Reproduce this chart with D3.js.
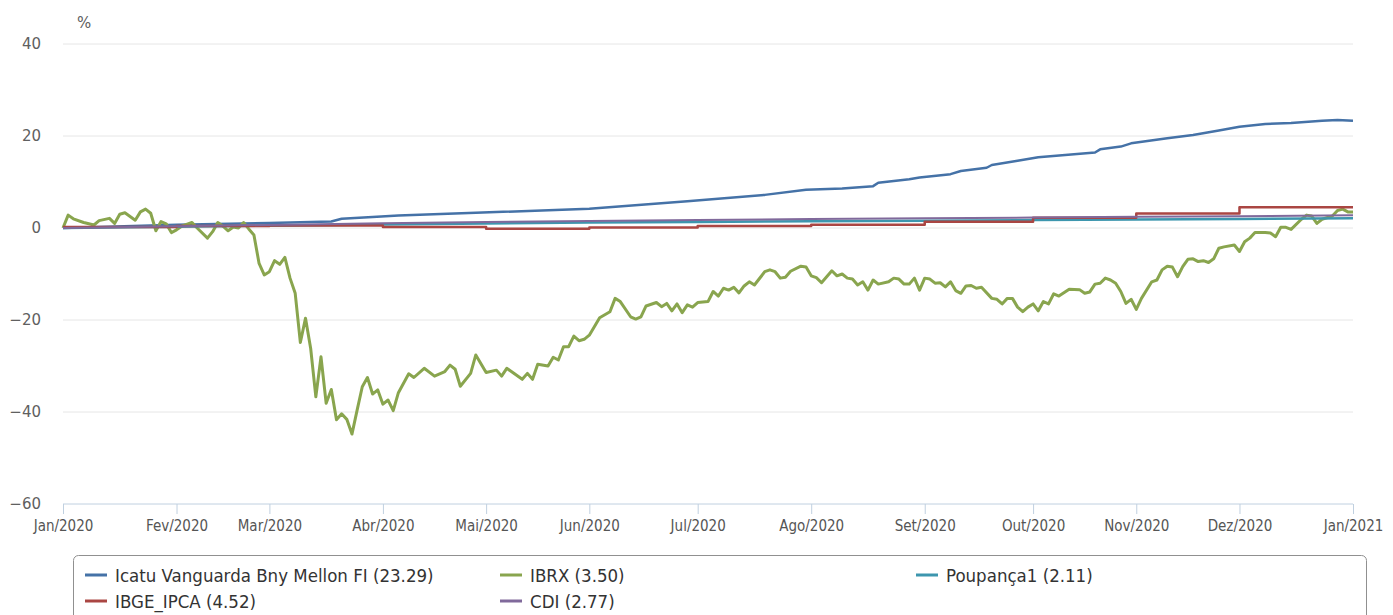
<!DOCTYPE html>
<html>
<head>
<meta charset="utf-8">
<script src="https://cdn.jsdelivr.net/npm/d3@7"></script>
<style>
  body { margin: 0; background: #fff; }
  svg { display: block; }
  .axis-lbl { font-family: "DejaVu Sans Condensed", "DejaVu Sans", sans-serif; font-stretch: condensed; }
</style>
</head>
<body>
<svg width="1393" height="615"></svg>
<script>
// trading-day index of the first session of each month (ordinal x axis)
const monthIdx = [0, 22, 40, 62, 82, 102, 123, 145, 167, 188, 208, 228, 250];
const monthLabels = ["Jan/2020", "Fev/2020", "Mar/2020", "Abr/2020", "Mai/2020", "Jun/2020",
  "Jul/2020", "Ago/2020", "Set/2020", "Out/2020", "Nov/2020", "Dez/2020", "Jan/2021"];
const yTicks = [-60, -40, -20, 0, 20, 40];

// Icatu Vanguarda Bny Mellon FI  [day, %]
const icatu = [[0, 0], [22, 0.7], [40, 1.1], [52, 1.4], [54, 2.0], [60, 2.4], [65, 2.7], [80, 3.3],
  [102, 4.2], [121, 5.8], [136, 7.2], [144, 8.3], [151, 8.6], [157, 9.1], [158, 9.85], [164, 10.6],
  [166, 11.0], [172, 11.7], [174, 12.4], [179, 13.1], [180, 13.7], [185, 14.6], [189, 15.4],
  [200, 16.4], [201, 17.1], [205, 17.7], [207, 18.4], [214, 19.5], [219, 20.2], [224, 21.2],
  [228, 22.0], [233, 22.6], [238, 22.8], [244, 23.3], [247, 23.5], [250, 23.29]];

// IBRX  [day, %]
const ibrx = [[0, 0], [1, 2.8], [2, 2.0], [4, 1.2], [6, 0.65], [7, 1.6], [9, 2.1], [10, 1.0], [11, 3.0],
  [12, 3.3], [14, 1.7], [15, 3.5], [16, 4.1], [17, 3.2], [18, -0.6], [19, 1.4], [20, 0.9], [21, -1.0],
  [22, -0.4], [23, 0.4], [25, 1.2], [26, 0], [28, -2.2], [29, -0.8], [30, 1.2], [31, 0.4], [32, -0.6],
  [33, 0.2], [34, 0], [35, 1.2], [36, -0.2], [37, -1.5], [38, -7.7], [39, -10.2], [40, -9.5], [41, -7.1],
  [42, -7.9], [43, -6.4], [44, -10.9], [45, -14.2], [46, -24.9], [47, -19.6], [48, -26.2], [49, -36.7],
  [50, -28], [51, -38.1], [52, -35.1], [53, -41.7], [54, -40.4], [55, -41.6], [56, -44.8], [57, -39.6],
  [58, -34.5], [59, -32.5], [60, -36.1], [61, -35.2], [62, -38.3], [63, -37.4], [64, -39.7], [65, -35.8],
  [67, -31.7], [68, -32.5], [70, -30.5], [72, -32.2], [74, -31.2], [75, -29.8], [76, -30.7], [77, -34.4],
  [79, -31.6], [80, -27.6], [82, -31.4], [84, -30.9], [85, -32.2], [86, -30.5], [89, -32.9], [90, -31.6],
  [91, -32.9], [92, -29.6], [94, -30.0], [95, -28.1], [96, -28.7], [97, -25.8], [98, -25.8], [99, -23.5],
  [100, -24.5], [101, -24.2], [102, -23.3], [104, -19.5], [106, -18.2], [107, -15.3], [108, -16.0],
  [110, -19.3], [111, -19.8], [112, -19.3], [113, -16.95], [115, -16.2], [116, -17.1], [117, -16.4],
  [118, -18.0], [119, -16.5], [120, -18.4], [121, -16.7], [122, -17.2], [123, -16.2], [125, -16.0],
  [126, -13.8], [127, -14.8], [128, -13.1], [129, -13.5], [130, -12.9], [131, -14.1], [132, -12.6],
  [133, -11.7], [134, -12.4], [136, -9.5], [137, -9.1], [138, -9.5], [139, -10.9], [140, -10.7],
  [141, -9.4], [143, -8.3], [144, -8.5], [145, -10.4], [146, -10.8], [147, -11.9], [149, -9.3],
  [150, -10.4], [151, -10.0], [152, -10.9], [153, -11.1], [154, -12.4], [155, -11.7], [156, -13.5],
  [157, -11.3], [158, -12.2], [160, -11.7], [161, -10.9], [162, -11.1], [163, -12.2], [164, -12.2],
  [165, -10.9], [166, -13.5], [167, -10.9], [168, -11.1], [169, -12.0], [170, -11.9], [171, -12.8],
  [172, -11.7], [173, -13.6], [174, -14.2], [175, -12.6], [176, -12.5], [177, -13.1], [178, -12.9],
  [180, -15.3], [181, -15.5], [182, -16.5], [183, -15.3], [184, -15.3], [185, -17.2], [186, -18.2],
  [187, -17.2], [188, -16.5], [189, -18.0], [190, -16.0], [191, -16.5], [192, -14.3], [193, -14.8],
  [195, -13.3], [197, -13.4], [198, -14.2], [199, -13.9], [200, -12.2], [201, -12.0], [202, -10.9],
  [203, -11.3], [204, -12.0], [205, -13.8], [206, -16.4], [207, -15.5], [208, -17.7], [209, -15.3],
  [211, -11.7], [212, -11.3], [213, -9.1], [214, -8.3], [215, -8.5], [216, -10.6], [217, -8.4],
  [218, -6.8], [219, -6.7], [220, -7.3], [221, -7.1], [222, -7.5], [223, -6.7], [224, -4.4],
  [225, -4.1], [227, -3.7], [228, -5.1], [229, -3.0], [230, -2.2], [231, -1.0], [233, -1.0],
  [234, -1.1], [235, -1.9], [236, 0.15], [237, 0.15], [238, -0.3], [240, 1.9], [241, 2.8], [242, 2.6],
  [243, 1.0], [244, 1.9], [246, 2.6], [247, 3.8], [248, 4.1], [249, 3.5], [250, 3.5]];

// monthly accumulated values at monthIdx
const poupanca = [0, 0.26, 0.51, 0.77, 1.0, 1.18, 1.32, 1.46, 1.59, 1.72, 1.85, 1.98, 2.11];
const cdi = [0, 0.38, 0.67, 1.01, 1.29, 1.53, 1.75, 1.94, 2.10, 2.26, 2.42, 2.57, 2.77];
const ipca = [0.21, 0.46, 0.53, 0.22, -0.16, 0.10, 0.46, 0.70, 1.34, 2.22, 3.13, 4.52, 4.52];

const legendNames = ["Icatu Vanguarda Bny Mellon FI (23.29)", "IBRX (3.50)", "Poupança1 (2.11)",
  "IBGE_IPCA (4.52)", "CDI (2.77)"];
const colors = ["#4572A7", "#89A54E", "#3D96AE", "#AA4643", "#80699B"];

const svg = d3.select("svg");
const x = d3.scaleLinear().domain([0, 250]).range([63, 1353]);
const y = d3.scaleLinear().domain([-60, 40]).range([504, 44]);

// grid
svg.append("g").selectAll("line")
  .data(yTicks.filter(d => d > -60))
  .enter().append("line")
  .attr("x1", 63).attr("x2", 1353)
  .attr("y1", d => y(d)).attr("y2", d => y(d))
  .attr("stroke", "#e6e6e6").attr("stroke-width", 1);

// y axis labels
const yAxis = d3.axisLeft(y).tickValues(yTicks).tickSize(0).tickPadding(22);
const gy = svg.append("g").attr("transform", "translate(63,0)").call(yAxis);
gy.select(".domain").remove();
gy.selectAll("text").attr("fill", "#606060").style("font-size", "15px")
  .style("font-family", "'DejaVu Sans', sans-serif");

svg.append("text").attr("x", 77).attr("y", 28).text("%")
  .attr("fill", "#606060").style("font-size", "15px").style("font-family", "'DejaVu Sans', sans-serif");

// x axis
const xAxis = d3.axisBottom(x).tickValues(monthIdx).tickSize(10).tickPadding(6)
  .tickFormat((d, i) => monthLabels[i]);
const gx = svg.append("g").attr("transform", "translate(0,504)").call(xAxis);
gx.select(".domain").attr("stroke", "#C0D0E0").attr("d", "M63,0H1353");
gx.selectAll(".tick line").attr("stroke", "#C0D0E0");
gx.selectAll("text").attr("fill", "#555").attr("class", "axis-lbl").style("font-size", "15px");

// series
const line = d3.line().x(d => x(d[0])).y(d => y(d[1]));
const stepLine = d3.line().x(d => x(d[0])).y(d => y(d[1])).curve(d3.curveStepAfter);
const monthly = vals => vals.map((v, i) => [monthIdx[i], v]);

const series = [
  { data: icatu, gen: line, w: 2.5 },
  { data: ibrx, gen: line, w: 3 },
  { data: monthly(poupanca), gen: line, w: 2.5 },
  { data: monthly(ipca), gen: stepLine, w: 2.5 },
  { data: monthly(cdi), gen: line, w: 2 }
];
svg.append("g").selectAll("path")
  .data(series)
  .enter().append("path")
  .attr("d", d => d.gen(d.data))
  .attr("fill", "none")
  .attr("stroke", (d, i) => colors[i])
  .attr("stroke-width", d => d.w)
  .attr("stroke-linejoin", "round");

// legend
svg.append("rect").attr("x", 73.5).attr("y", 555.5).attr("width", 1293).attr("height", 80)
  .attr("rx", 5).attr("fill", "none").attr("stroke", "#909090").attr("stroke-width", 1);
const legX = [85, 500, 916];
const legY = [575, 601];
const items = svg.append("g").selectAll("g")
  .data(legendNames)
  .enter().append("g")
  .attr("transform", (d, i) => `translate(${legX[i % 3]},${legY[Math.floor(i / 3)]})`);
items.append("line").attr("x1", 0).attr("x2", 22).attr("y1", 0).attr("y2", 0)
  .attr("stroke", (d, i) => colors[i]).attr("stroke-width", 3);
items.append("text").attr("x", 30).attr("y", 6.5).text(d => d)
  .attr("class", "axis-lbl").attr("fill", "#333").style("font-size", "18.5px");
</script>
</body>
</html>
